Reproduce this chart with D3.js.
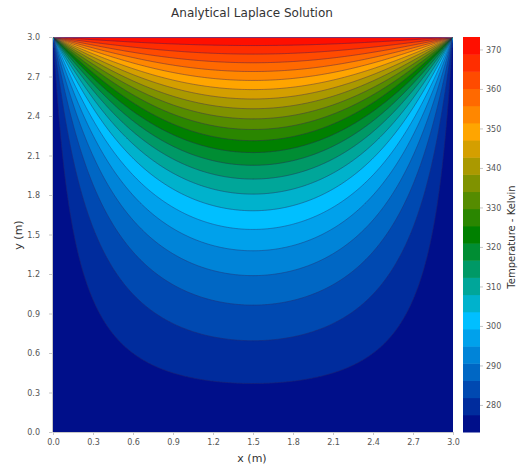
<!DOCTYPE html>
<html><head><meta charset="utf-8">
<script src="https://cdn.jsdelivr.net/npm/d3@7"></script>
<style>
body{margin:0;background:#fff}
svg{display:block}
text{font-family:"DejaVu Sans",sans-serif}
</style>
</head><body>
<svg id="chart" width="518" height="468"></svg>
<script>
// ---- data ----
const plateSize = [3.0, 3.0];              // width, height (m)
const boundaryTemps = [273.15, 373.15];    // sides/bottom, top (K)
const levelCount = [23];                   // number of filled bands
const seriesTerms = [401];                 // highest odd Fourier term
const xTicks = [0.0, 0.3, 0.6, 0.9, 1.2, 1.5, 1.8, 2.1, 2.4, 2.7, 3.0];
const yTicks = [0.0, 0.3, 0.6, 0.9, 1.2, 1.5, 1.8, 2.1, 2.4, 2.7, 3.0];
const cbTicks = [280, 290, 300, 310, 320, 330, 340, 350, 360, 370];
const cmapStops = [0, 0.283, 0.5, 0.761, 1];
const cmapColors = ["#000080", "#00bfff", "#008000", "#ffa500", "#ff0000"];

// ---- layout ----
const M = {left: 53, right: 453, top: 37, bottom: 432};
const CB = {x: 463, w: 17};
const svg = d3.select("#chart");

const xs = d3.scaleLinear().domain([0, plateSize[0]]).range([M.left, M.right]);
const ys = d3.scaleLinear().domain([0, plateSize[1]]).range([M.bottom, M.top]);
const tMin = boundaryTemps[0], tMax = boundaryTemps[1];
const nL = levelCount[0];
const levels = d3.range(nL + 1).map(k => tMin + k * (tMax - tMin) / nL);
const cmap = d3.scaleLinear().domain(cmapStops).range(cmapColors).interpolate(d3.interpolateRgb);
const bandColor = k => cmap((k + 0.5) / nL);

// analytic solution of Laplace equation on the plate
function temp(x, y) {
  const W = plateSize[0], H = plateSize[1];
  let s = 0;
  for (let n = 1; n <= seriesTerms[0]; n += 2) {
    const a = n * Math.PI / W;
    const ratio = Math.exp(a * (y - H)) * (1 - Math.exp(-2 * a * y)) / (1 - Math.exp(-2 * a * H));
    s += 4 / (n * Math.PI) * Math.sin(a * x) * ratio;
  }
  return tMin + (tMax - tMin) * s;
}

const N = 260;
const grid = new Array(N * N);
for (let j = 0; j < N; j++) {
  const y = plateSize[1] - (j + 0.5) * plateSize[1] / N;
  for (let i = 0; i < N; i++) {
    const x = (i + 0.5) * plateSize[0] / N;
    grid[j * N + i] = temp(x, y);
  }
}
const proj = d3.geoTransform({
  point: function(cx, cy) {
    this.stream.point(xs(cx * plateSize[0] / N), ys(plateSize[1] - cy * plateSize[1] / N));
  }
});
const path = d3.geoPath(proj);
const contours = d3.contours().size([N, N]).thresholds(levels.slice(1, nL))(grid);

const defs = svg.append("defs");
defs.append("clipPath").attr("id", "plotclip").append("rect")
  .attr("x", M.left).attr("y", M.top).attr("width", M.right - M.left).attr("height", M.bottom - M.top);
defs.append("clipPath").attr("id", "lineclip").append("rect")
  .attr("x", M.left + 1).attr("y", M.top + 1).attr("width", M.right - M.left - 2).attr("height", M.bottom - M.top - 2);

const plot = svg.append("g").attr("clip-path", "url(#plotclip)");
plot.append("rect").attr("x", M.left).attr("y", M.top)
  .attr("width", M.right - M.left).attr("height", M.bottom - M.top)
  .attr("fill", bandColor(0));
plot.selectAll("path.fill").data(contours).join("path")
  .attr("class", "fill")
  .attr("d", path)
  .attr("fill", (d, i) => bandColor(i + 1))
  .attr("stroke", (d, i) => bandColor(i + 1))
  .attr("stroke-width", 0.3);

const lines = svg.append("g").attr("clip-path", "url(#lineclip)");
lines.selectAll("path.line").data(contours).join("path")
  .attr("class", "line")
  .attr("d", path)
  .attr("fill", "none")
  .attr("stroke", "#2b1d5c")
  .attr("stroke-opacity", 0.5)
  .attr("stroke-width", 0.8);
// top boundary level line
svg.append("line").attr("x1", M.left).attr("x2", M.right)
  .attr("y1", ys(plateSize[1]) + 0.5).attr("y2", ys(plateSize[1]) + 0.5)
  .attr("stroke", "#5a3c8c").attr("stroke-opacity", 0.8).attr("stroke-width", 1);

// axes
function styleAxis(g) {
  g.select(".domain").attr("stroke", "#c8c8c8").attr("stroke-width", 1);
  g.selectAll(".tick line").attr("stroke", "#c8c8c8");
  g.selectAll(".tick text").attr("fill", "#555").attr("font-size", 8).attr("font-family", "DejaVu Sans");
}
svg.append("g").attr("transform", `translate(0,${M.bottom})`)
  .call(d3.axisBottom(xs).tickValues(xTicks).tickFormat(d3.format(".1f")).tickSize(3).tickSizeOuter(0).tickPadding(4))
  .call(styleAxis);
svg.append("g").attr("transform", `translate(${M.left - 1},0)`)
  .call(d3.axisLeft(ys).tickValues(yTicks).tickFormat(d3.format(".1f")).tickSize(3).tickSizeOuter(0).tickPadding(9))
  .call(styleAxis);

// colorbar
const cs = d3.scaleLinear().domain([tMin, tMax]).range([M.bottom, M.top]);
svg.append("g").selectAll("rect").data(d3.range(nL)).join("rect")
  .attr("x", CB.x).attr("width", CB.w)
  .attr("y", k => cs(levels[k + 1]))
  .attr("height", k => cs(levels[k]) - cs(levels[k + 1]) + 0.5)
  .attr("fill", k => bandColor(k));
const cbAxis = svg.append("g").attr("transform", `translate(${CB.x + CB.w},0)`)
  .call(d3.axisRight(cs).tickValues(cbTicks).tickFormat(d3.format("d")).tickSize(3).tickPadding(3))
  .call(styleAxis);
cbAxis.select(".domain").remove();

// titles
svg.append("text").attr("x", 252).attr("y", 17).attr("text-anchor", "middle")
  .attr("font-size", 12).attr("fill", "#333").text("Analytical Laplace Solution");
svg.append("text").attr("x", 252).attr("y", 462).attr("text-anchor", "middle")
  .attr("font-size", 11).attr("fill", "#333").text("x (m)");
svg.append("text").attr("transform", "translate(22,235) rotate(-90)").attr("text-anchor", "middle")
  .attr("font-size", 11).attr("fill", "#333").text("y (m)");
svg.append("text").attr("transform", "translate(515,237) rotate(-90)").attr("text-anchor", "middle")
  .attr("font-size", 10).attr("fill", "#333").text("Temperature - Kelvin");
</script>
</body></html>
